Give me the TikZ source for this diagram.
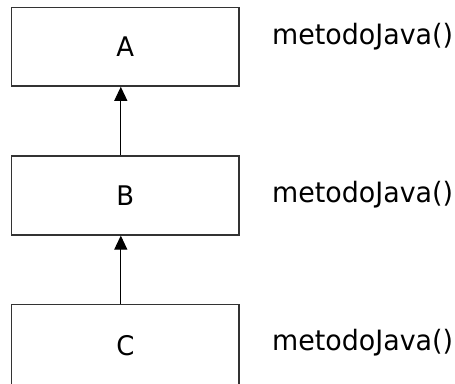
\documentclass[tikz,border=0pt]{standalone}
\usepackage{fontspec}
\setmainfont[FakeStretch=0.96]{DejaVu Sans}
\usetikzlibrary{arrows.meta}
\tikzset{
  classbox/.style={draw=black!80, line width=1.5pt, minimum width=227.3pt, minimum height=78.7pt, inner sep=0pt, font=\fontsize{27}{32}\selectfont},
  methodlabel/.style={anchor=base west, inner sep=0pt, font=\fontsize{28}{33}\selectfont},
  inherit/.style={draw=black, line width=1pt, -{Triangle[width=13pt,length=14pt]}}
}
\begin{document}
\begin{tikzpicture}[x=1pt,y=-1pt]
\useasboundingbox (0,0) rectangle (455,383);
\node[classbox] (A) at (125.3,46.7) {A};
\node[classbox] (B) at (125.3,195.5) {B};
\node[classbox, minimum height=82pt] (C) at (125.3,345.3) {C};
\node[methodlabel] (mA) at (272,44) {metodoJava()};
\node[methodlabel] (mB) at (272,202) {metodoJava()};
\node[methodlabel] (mC) at (272,350) {metodoJava()};
\draw[inherit] ([xshift=-4.5pt]B.north) -- ([xshift=-4.5pt]A.south);
\draw[inherit] ([xshift=-4.5pt]C.north) -- ([xshift=-4.5pt]B.south);
\end{tikzpicture}
\end{document}
